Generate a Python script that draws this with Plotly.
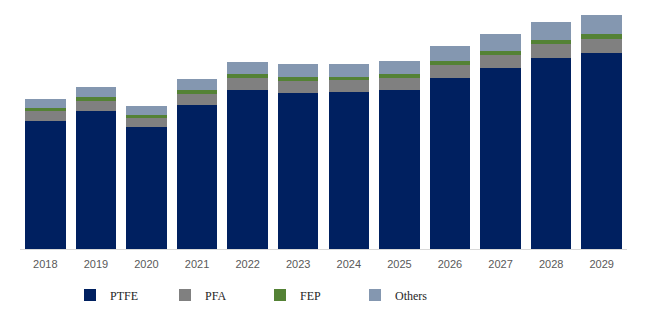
import plotly.graph_objects as go

years = ["2018", "2019", "2020", "2021", "2022", "2023", "2024", "2025", "2026", "2027", "2028", "2029"]
ptfe = [128, 138, 122, 144, 159, 156, 157, 159, 171, 181, 191, 196]
pfa = [10, 10, 9, 11, 12, 12, 12, 12, 13, 13, 14, 14]
fep = [3, 4, 3, 4, 4, 4, 3, 4, 4, 4, 4, 5]
others = [9, 10, 9, 11, 12, 13, 13, 13, 15, 17, 18, 19]

series = [
    ("PTFE", ptfe, "#002060"),
    ("PFA", pfa, "#808080"),
    ("FEP", fep, "#548235"),
    ("Others", others, "#8497B0"),
]

fig = go.Figure()
for name, vals, color in series:
    fig.add_trace(go.Bar(x=years, y=vals, name=name, marker=dict(color=color, line=dict(width=0))))

fig.update_layout(
    barmode="stack",
    bargap=0.2,
    width=650,
    height=322,
    margin=dict(l=20, r=23, t=10, b=73, autoexpand=False),
    plot_bgcolor="white",
    paper_bgcolor="white",
    xaxis=dict(
        showline=True, linecolor="#d9d9d9", linewidth=1,
        tickfont=dict(family="Liberation Sans", size=11, color="#595959"),
        ticks="", showgrid=False, ticklabelstandoff=5,
    ),
    yaxis=dict(range=[0, 239], visible=False, showgrid=False),
    legend=dict(
        orientation="h", x=(70 - 20) / 607, xanchor="left", y=-0.1925, yanchor="middle",
        font=dict(family="Liberation Serif", size=12, color="#262626"),
        entrywidth=50, entrywidthmode="pixels", traceorder="normal",
    ),
)

fig.write_html("out.html")
